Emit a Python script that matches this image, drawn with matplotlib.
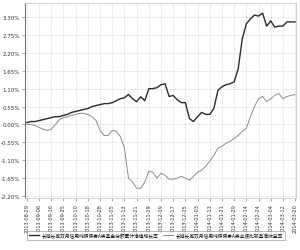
import matplotlib
matplotlib.use("Agg")
import matplotlib.pyplot as plt
from matplotlib.ticker import FuncFormatter

plt.rcParams['font.family'] = ['Noto Sans CJK SC', 'DejaVu Sans']

tick_labels = ["2013-08-29", "2013-09-06", "2013-09-16", "2013-09-25", "2013-10-10",
               "2013-10-18", "2013-10-28", "2013-11-05", "2013-11-13", "2013-11-21",
               "2013-11-29", "2013-12-09", "2013-12-17", "2013-12-25", "2014-01-03",
               "2014-01-13", "2014-01-21", "2014-01-29", "2014-02-14", "2014-02-24",
               "2014-03-04", "2014-03-12", "2014-03-20"]

fund_growth = [0.06, 0.09, 0.09, 0.12, 0.15, 0.18, 0.21, 0.24, 0.24, 0.28,
               0.31, 0.37, 0.40, 0.43, 0.46, 0.49, 0.55, 0.58, 0.61, 0.64,
               0.64, 0.67, 0.73, 0.79, 0.82, 0.92, 0.79, 0.70, 0.85, 0.73,
               1.10, 1.10, 1.13, 1.22, 1.25, 0.86, 0.89, 0.76, 0.67, 0.67,
               0.18, 0.09, 0.24, 0.37, 0.31, 0.31, 0.49, 1.04, 1.16, 1.22,
               1.25, 1.31, 1.71, 2.63, 3.09, 3.24, 3.36, 3.33, 3.42, 3.02,
               3.18, 2.99, 3.02, 3.02, 3.15, 3.15, 3.15]

benchmark = [0.00, 0.00, -0.03, -0.09, -0.15, -0.18, -0.15, 0.00, 0.15, 0.21,
             0.24, 0.28, 0.31, 0.34, 0.34, 0.31, 0.24, 0.12, -0.18, -0.34,
             -0.34, -0.18, -0.21, -0.37, -0.73, -1.65, -1.77, -1.96, -1.96, -1.77,
             -1.44, -1.47, -1.65, -1.50, -1.56, -1.68, -1.68, -1.65, -1.59, -1.65,
             -1.71, -1.59, -1.47, -1.41, -1.28, -1.13, -0.95, -0.73, -0.67, -0.58,
             -0.52, -0.43, -0.34, -0.21, -0.12, 0.24, 0.55, 0.79, 0.86, 0.70,
             0.79, 0.89, 0.95, 0.79, 0.86, 0.89, 0.92]

y_ticks = [-2.20, -1.65, -1.10, -0.55, 0.00, 0.55, 1.10, 1.65, 2.20, 2.75, 3.30]

label_fund = "长城长城双月信用纯债债券A类基金份额累计净值增长率"
label_bench = "长城长城双月信用纯债债券A类业绩比较基准收益率"

fig = plt.figure(figsize=(3.0, 2.51), dpi=100)
ax = fig.add_axes([0.083, 0.207, 0.904, 0.777])

x = list(range(len(fund_growth)))
step = 3
ax.plot(x, fund_growth, color='#2a2a2a', lw=1.0, label=label_fund)
ax.plot(x, benchmark, color='#8c8c8c', lw=0.7, label=label_bench)

ax.set_xlim(-0.5, 66.25)
ax.set_ylim(-2.26, 3.73)
ax.set_xticks(list(range(0, len(fund_growth), step)))
ax.set_xticklabels(tick_labels, rotation=90, fontsize=3.6, color='#333333', family='DejaVu Sans')
ax.set_yticks(y_ticks)
ax.yaxis.set_major_formatter(FuncFormatter(lambda v, p: f"{v:.2f}%"))
for lab in ax.get_yticklabels():
    lab.set_fontsize(4.0)
    lab.set_color('#333333')
    lab.set_family('DejaVu Sans')
ax.tick_params(axis='both', length=2, width=0.4, color='#666666', pad=1.5)
ax.grid(True, linestyle=(0, (1, 1.5)), color='#b0b0b0', lw=0.4)
for s in ['top', 'right', 'bottom']:
    ax.spines[s].set_color('#c0c0c0')
    ax.spines[s].set_linewidth(0.5)
ax.spines['left'].set_color('#555555')
ax.spines['left'].set_linewidth(0.6)

leg = fig.legend(loc='center', bbox_to_anchor=(0.52, 0.058), ncol=2, fontsize=3.4,
                 frameon=True, fancybox=False, edgecolor='#888888', handlelength=2.2,
                 columnspacing=1.0, handletextpad=0.5, borderpad=0.4)
leg.get_frame().set_linewidth(0.5)

fig.savefig("out.png", dpi=100)
